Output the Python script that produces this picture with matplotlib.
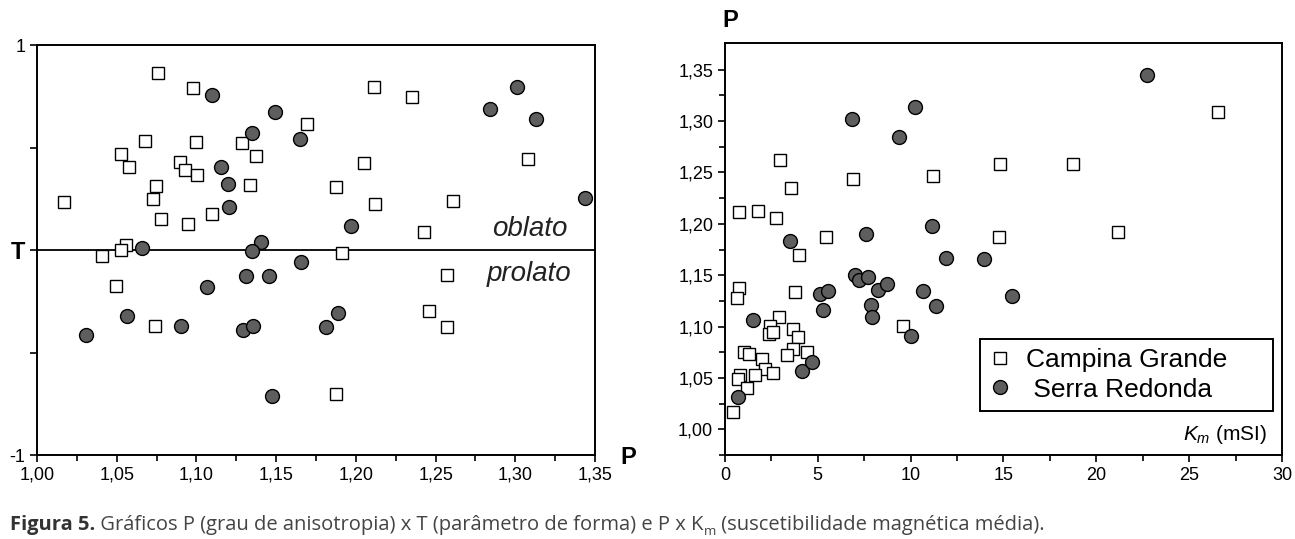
import matplotlib
matplotlib.use('Agg')
import matplotlib.pyplot as plt

plt.rcParams['font.family'] = ['Liberation Sans', 'DejaVu Sans']
plt.rcParams['mathtext.fontset'] = 'custom'
plt.rcParams['mathtext.rm'] = 'Liberation Sans'
plt.rcParams['mathtext.it'] = 'Liberation Sans:italic'
plt.rcParams['mathtext.bf'] = 'Liberation Sans:bold'

# --- P x T (left) ---
cg_P = [1.0758, 1.0977, 1.1692, 1.0677, 1.0996, 1.1283, 1.0529, 1.1375, 1.0577, 1.0896,
        1.0927, 1.1006, 1.0746, 1.1333, 1.0727, 1.0171, 1.0777, 1.0946, 1.1096, 1.0558,
        1.0529, 1.0408, 1.0498, 1.0738, 1.1910, 1.2571, 1.2460, 1.2571, 1.1873, 1.2113,
        1.2352, 1.3077, 1.2052, 1.1873, 1.2121, 1.2608, 1.2429]
cg_T = [0.865, 0.789, 0.613, 0.532, 0.527, 0.520, 0.468, 0.460, 0.406, 0.428,
        0.390, 0.366, 0.311, 0.319, 0.249, 0.236, 0.151, 0.127, 0.176, 0.024,
        0.000, -0.029, -0.174, -0.369, -0.013, -0.122, -0.298, -0.377, -0.704, 0.797,
        0.748, 0.444, 0.423, 0.306, 0.224, 0.237, 0.089]

sr_P = [1.1096, 1.1494, 1.1346, 1.1652, 1.1154, 1.1196, 1.1204, 1.0656, 1.1406, 1.1346,
        1.1658, 1.1310, 1.1452, 1.1065, 1.0567, 1.0306, 1.0904, 1.1294, 1.1354, 1.1810,
        1.1473, 1.1890, 1.3008, 1.2838, 1.3127, 1.1967, 1.3436]
sr_T = [0.756, 0.675, 0.571, 0.543, 0.403, 0.320, 0.208, 0.008, 0.039, -0.006,
        -0.057, -0.125, -0.125, -0.182, -0.322, -0.413, -0.371, -0.390, -0.371, -0.374,
        -0.712, -0.306, 0.797, 0.689, 0.637, 0.117, 0.255]

# --- Km x P (right) ---
cg_Km = [2.94, 3.57, 0.77, 1.77, 2.77, 6.88, 11.19, 5.46, 26.58, 14.81,
         18.76, 14.74, 21.17, 4.00, 0.76, 0.67, 3.77, 2.92, 2.43, 2.40,
         2.58, 3.64, 3.91, 3.69, 3.33, 4.42, 1.03, 1.30, 1.98, 2.16,
         2.58, 1.62, 0.81, 0.72, 1.17, 0.45, 9.58]
cg_Pk = [1.262, 1.235, 1.2116, 1.2128, 1.206, 1.2437, 1.247, 1.1875, 1.309, 1.258,
         1.258, 1.1875, 1.192, 1.1696, 1.1378, 1.128, 1.1336, 1.1095, 1.1004, 1.093,
         1.095, 1.0972, 1.0897, 1.078, 1.0728, 1.0754, 1.0748, 1.0731, 1.068, 1.059,
         1.0553, 1.0526, 1.0526, 1.0494, 1.0403, 1.0166, 1.1007]

sr_Km = [6.85, 10.23, 9.39, 3.50, 7.62, 11.17, 22.74, 1.50, 0.70, 4.16,
         4.68, 5.12, 5.53, 5.28, 7.03, 7.24, 7.71, 8.23, 8.74, 7.87,
         7.93, 10.00, 10.65, 11.35, 11.89, 13.93, 15.46]
sr_Pk = [1.302, 1.314, 1.285, 1.183, 1.190, 1.198, 1.345, 1.1063, 1.031, 1.0569,
         1.0653, 1.1319, 1.1349, 1.1157, 1.1498, 1.1453, 1.148, 1.1355, 1.141, 1.1209,
         1.1098, 1.0907, 1.1349, 1.1199, 1.167, 1.166, 1.130]

p_ticks = [1.00, 1.05, 1.10, 1.15, 1.20, 1.25, 1.30, 1.35]
p_labels = ['1,00', '1,05', '1,10', '1,15', '1,20', '1,25', '1,30', '1,35']
km_ticks = [0, 5, 10, 15, 20, 25, 30]

fig = plt.figure(figsize=(12.95, 5.39), dpi=100)
ax1 = fig.add_axes([0.0286, 0.1558, 0.4309, 0.7607])
ax2 = fig.add_axes([0.5598, 0.1558, 0.4301, 0.7644])

sq = dict(marker='s', ms=9, mfc='white', mec='black', mew=1.0, ls='none')
ci = dict(marker='o', ms=10, mfc='#5e5e5e', mec='black', mew=1.0, ls='none')

for ax in (ax1, ax2):
    for s in ax.spines.values():
        s.set_linewidth(1.4)
    ax.tick_params(which='both', direction='out', width=1.2, labelsize=13)
    ax.tick_params(which='major', length=5)
    ax.tick_params(which='minor', length=4)

# left panel
ax1.axhline(0, color='black', lw=1.3, zorder=1)
ax1.plot(cg_P, cg_T, zorder=3, **sq)
ax1.plot(sr_P, sr_T, zorder=3, **ci)
ax1.set_xlim(1.00, 1.35)
ax1.set_ylim(-1, 1)
ax1.set_xticks(p_ticks)
ax1.set_xticklabels(p_labels)
ax1.set_xticks([1.025 + 0.05 * i for i in range(7)], minor=True)
ax1.set_yticks([-1, -0.5, 0, 0.5, 1])
ax1.set_yticklabels(['-1', '', 'T', '', '1'])
tl = ax1.get_yticklabels()[2]
tl.set_fontsize(17)
tl.set_fontweight('bold')
ax1.text(1.3088, 0.068, 'oblato', style='italic', fontsize=20, ha='center',
         va='baseline', color='#222222')
ax1.text(1.3088, -0.052, 'prolato', style='italic', fontsize=20, ha='center',
         va='top', color='#222222')
ax1.text(1.06, -0.005, 'P', transform=ax1.transAxes, fontsize=17, fontweight='bold',
         ha='center', va='center')

# right panel
ax2.plot(cg_Km, cg_Pk, label='Campina Grande', zorder=3, **sq)
ax2.plot(sr_Km, sr_Pk, label=' Serra Redonda', zorder=3, **ci)
ax2.set_xlim(0, 30)
ax2.set_ylim(0.975, 1.376)
ax2.set_xticks(km_ticks)
ax2.set_xticks([2.5 + 5 * i for i in range(6)], minor=True)
ax2.set_yticks(p_ticks)
ax2.set_yticklabels(p_labels)
ax2.set_yticks([0.975 + 0.05 * i for i in range(8)], minor=True)
ax2.text(0.01, 1.055, 'P', transform=ax2.transAxes, fontsize=17, fontweight='bold',
         ha='center', va='center')
ax2.text(0.974, 0.05, r'$K_m$ (mSI)', transform=ax2.transAxes, fontsize=15,
         ha='right', va='center')
leg = ax2.legend(loc='lower left', bbox_to_anchor=(0.458, 0.107, 0.526, 0.175),
                 mode='expand', fontsize=19,
                 frameon=True, fancybox=False, edgecolor='black', framealpha=1,
                 handletextpad=0.6, borderpad=0.35, labelspacing=0.2,
                 handlelength=0.8, borderaxespad=0)
leg.get_frame().set_linewidth(1.4)

# caption
fig.canvas.draw()
r = fig.canvas.get_renderer()
x0 = 10 / 1295
yb = (539 - 530) / 539
cap_font = ['Open Sans', 'DejaVu Sans']
parts = [('Figura 5.', 'bold', '#333333', 14.5, 0),
         (' Gráficos P (grau de anisotropia) x T (parâmetro de forma) e P x K', 'normal', '#444444', 14.5, 0),
         ('m', 'normal', '#444444', 9.5, -5),
         (' (suscetibilidade magnética média).', 'normal', '#444444', 14.5, 0)]
x = x0
for txt, w, c, fs, dy in parts:
    t = fig.text(x, yb + dy / 539, txt, family=cap_font, fontweight=w, color=c,
                 fontsize=fs, va='baseline', ha='left')
    bb = t.get_window_extent(renderer=r)
    x += bb.width / 1295

fig.savefig('out.png', dpi=100)
